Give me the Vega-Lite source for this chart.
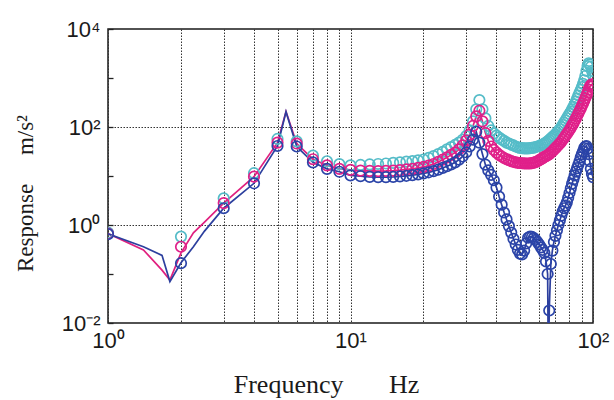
{
  "$schema": "https://vega.github.io/schema/vega-lite/v6.json",
  "width": 485,
  "height": 294,
  "autosize": {"type": "none"},
  "padding": {"left": 108, "top": 29, "right": 21, "bottom": 77},
  "background": "white",
  "config": {
    "view": {"stroke": "#1a1a1a", "strokeWidth": 1.5},
    "axis": {"labelFont": "Liberation Sans", "labelFontSize": 22, "labelColor": "#1a1a1a", "titleFont": "Liberation Serif", "titleFontWeight": "normal", "titleFontSize": 23, "titleColor": "#1a1a1a", "domain": false}
  },
  "data": {"values": [
    {"freq": 1, "c": 0.7, "m": 0.67, "b": 0.65, "lm": 0.67, "lb": 0.66},
    {"freq": 1.4, "lm": 0.31, "lb": 0.36},
    {"freq": 1.67, "lm": 0.12, "lb": 0.24},
    {"freq": 1.8, "lm": 0.075, "lb": 0.07},
    {"freq": 2, "c": 0.58, "m": 0.36, "b": 0.166, "lm": 0.27, "lb": 0.17},
    {"freq": 2.25, "lm": 0.69, "lb": 0.36},
    {"freq": 2.5, "lm": 1.15, "lb": 0.75},
    {"freq": 3, "c": 3.5, "m": 2.8, "b": 2.2, "lm": 2.8, "lb": 2.2},
    {"freq": 4, "c": 11.4, "m": 9.7, "b": 7.1, "lm": 9.7, "lb": 7.1},
    {"freq": 5, "c": 57, "m": 48, "b": 41, "lm": 48, "lb": 41},
    {"freq": 5.42, "lm": 205, "lb": 205},
    {"freq": 6, "c": 51, "m": 46, "b": 40, "lm": 46, "lb": 40},
    {"freq": 7, "c": 26, "m": 22, "b": 19, "lm": 22, "lb": 19},
    {"freq": 8, "c": 20, "m": 16.5, "b": 14, "lm": 16.5, "lb": 14},
    {"freq": 9, "c": 17.5, "m": 14, "b": 12.2, "lm": 14, "lb": 12.2},
    {"freq": 10, "c": 16.5, "m": 13.3, "b": 10.3, "lm": 13.3, "lb": 10.3},
    {"freq": 11, "c": 16.8, "m": 12.9, "b": 9.9, "lm": 12.9, "lb": 9.9},
    {"freq": 12, "c": 17.2, "m": 12.7, "b": 9.6, "lm": 12.7, "lb": 9.6},
    {"freq": 13, "c": 17.6, "m": 12.6, "b": 9.5, "lm": 12.6, "lb": 9.5},
    {"freq": 14, "c": 18, "m": 12.7, "b": 9.5, "lm": 12.7, "lb": 9.5},
    {"freq": 15, "c": 18.5, "m": 12.9, "b": 9.6, "lm": 12.9, "lb": 9.6},
    {"freq": 16, "c": 19, "m": 13.2, "b": 9.8, "lm": 13.2, "lb": 9.8},
    {"freq": 17, "c": 19.6, "m": 13.6, "b": 10.1, "lm": 13.6, "lb": 10.1},
    {"freq": 18, "c": 20.2, "m": 14, "b": 10.4, "lm": 14, "lb": 10.4},
    {"freq": 19, "c": 20.9, "m": 14.6, "b": 10.8, "lm": 14.6, "lb": 10.8},
    {"freq": 20, "c": 21.7, "m": 15.3, "b": 11.3, "lm": 15.3, "lb": 11.3},
    {"freq": 21, "c": 23.5, "m": 16.3, "b": 11.9, "lm": 16.3, "lb": 11.9},
    {"freq": 22, "c": 25.5, "m": 17.6, "b": 12.6, "lm": 17.6, "lb": 12.6},
    {"freq": 23, "c": 28, "m": 19.4, "b": 13.5, "lm": 19.4, "lb": 13.5},
    {"freq": 24, "c": 31, "m": 21.5, "b": 14.6, "lm": 21.5, "lb": 14.6},
    {"freq": 25, "c": 35, "m": 24, "b": 15.8, "lm": 24, "lb": 15.8},
    {"freq": 26, "c": 39, "m": 27, "b": 17.2, "lm": 27, "lb": 17.2},
    {"freq": 27, "c": 43, "m": 30, "b": 19, "lm": 30, "lb": 19},
    {"freq": 28, "c": 48, "m": 35, "b": 21.5, "lm": 35, "lb": 21.5},
    {"freq": 29, "c": 55, "m": 42, "b": 25, "lm": 42, "lb": 25},
    {"freq": 30, "c": 65, "m": 53, "b": 30.5, "lm": 53, "lb": 30.5},
    {"freq": 31, "c": 85, "m": 70, "b": 40, "lm": 70, "lb": 40},
    {"freq": 32, "c": 130, "m": 105, "b": 55, "lm": 105, "lb": 55},
    {"freq": 33, "c": 230, "m": 165, "b": 80, "lm": 165, "lb": 80},
    {"freq": 34, "c": 355, "m": 215, "b": 48, "lm": 215, "lb": 48},
    {"freq": 35, "c": 230, "m": 130, "b": 28, "lm": 130, "lb": 28},
    {"freq": 36, "c": 150, "m": 75, "b": 17, "lm": 75, "lb": 17},
    {"freq": 37, "c": 105, "m": 52, "b": 13, "lm": 52, "lb": 13},
    {"freq": 38, "c": 85, "m": 40, "b": 10.5, "lm": 40, "lb": 10.5},
    {"freq": 39, "c": 74, "m": 34, "b": 8.2, "lm": 34, "lb": 8.2},
    {"freq": 40, "c": 67, "m": 30, "b": 5.8, "lm": 30, "lb": 5.8},
    {"freq": 41, "c": 61, "m": 27, "b": 3.8, "lm": 27, "lb": 3.8},
    {"freq": 42, "c": 56, "m": 25, "b": 2.6, "lm": 25, "lb": 2.6},
    {"freq": 43, "c": 52, "m": 23.3, "b": 1.8, "lm": 23.3, "lb": 1.8},
    {"freq": 44, "c": 48, "m": 22, "b": 1.3, "lm": 22, "lb": 1.3},
    {"freq": 45, "c": 46, "m": 21, "b": 0.95, "lm": 21, "lb": 0.95},
    {"freq": 46, "c": 44, "m": 20.2, "b": 0.7, "lm": 20.2, "lb": 0.7},
    {"freq": 47, "c": 42, "m": 19.5, "b": 0.52, "lm": 19.5, "lb": 0.52},
    {"freq": 48, "c": 40, "m": 19, "b": 0.4, "lm": 19, "lb": 0.4},
    {"freq": 49, "c": 38.5, "m": 18.6, "b": 0.31, "lm": 18.6, "lb": 0.31},
    {"freq": 50, "c": 37.5, "m": 18.4, "b": 0.26, "lm": 18.4, "lb": 0.26},
    {"freq": 51, "c": 37, "m": 18.2, "b": 0.25, "lm": 18.2, "lb": 0.25},
    {"freq": 52, "c": 36.5, "m": 18.1, "b": 0.3, "lm": 18.1, "lb": 0.3},
    {"freq": 53, "c": 36.5, "m": 18, "b": 0.42, "lm": 18, "lb": 0.42},
    {"freq": 54, "c": 36.5, "m": 18, "b": 0.55, "lm": 18, "lb": 0.55},
    {"freq": 55, "c": 37, "m": 18.1, "b": 0.58, "lm": 18.1, "lb": 0.58},
    {"freq": 56, "c": 37.5, "m": 18.3, "b": 0.57, "lm": 18.3, "lb": 0.57},
    {"freq": 57, "c": 38, "m": 18.7, "b": 0.54, "lm": 18.7, "lb": 0.54},
    {"freq": 58, "c": 39, "m": 19.2, "b": 0.5, "lm": 19.2, "lb": 0.5},
    {"freq": 59, "c": 40, "m": 20, "b": 0.45, "lm": 20, "lb": 0.45},
    {"freq": 60, "c": 41, "m": 21, "b": 0.4, "lm": 21, "lb": 0.4},
    {"freq": 61, "c": 42.5, "m": 22, "b": 0.35, "lm": 22, "lb": 0.35},
    {"freq": 62, "c": 44, "m": 23.2, "b": 0.31, "lm": 23.2, "lb": 0.31},
    {"freq": 63, "c": 46, "m": 24.5, "b": 0.27, "lm": 24.5, "lb": 0.27},
    {"freq": 64, "c": 48, "m": 25.5, "b": 0.18, "lm": 25.5, "lb": 0.18},
    {"freq": 65, "c": 51, "m": 26.5, "b": 0.1, "lm": 26.5, "lb": 0.1},
    {"freq": 65.5, "lb": 0.0008},
    {"freq": 66, "c": 54, "m": 28, "b": 0.018, "lm": 28, "lb": 0.018},
    {"freq": 67, "c": 58, "m": 30, "b": 0.16, "lm": 30, "lb": 0.16},
    {"freq": 68, "c": 62, "m": 32, "b": 0.3, "lm": 32, "lb": 0.3},
    {"freq": 69, "c": 66, "m": 34.5, "b": 0.45, "lm": 34.5, "lb": 0.45},
    {"freq": 70, "c": 71, "m": 37, "b": 0.6, "lm": 37, "lb": 0.6},
    {"freq": 71, "c": 77, "m": 40, "b": 0.78, "lm": 40, "lb": 0.78},
    {"freq": 72, "c": 83, "m": 43, "b": 1.0, "lm": 43, "lb": 1.0},
    {"freq": 73, "c": 90, "m": 46, "b": 1.25, "lm": 46, "lb": 1.25},
    {"freq": 74, "c": 99, "m": 50, "b": 1.55, "lm": 50, "lb": 1.55},
    {"freq": 75, "c": 110, "m": 55, "b": 1.9, "lm": 55, "lb": 1.9},
    {"freq": 76, "c": 122, "m": 60, "b": 2.2, "lm": 60, "lb": 2.2},
    {"freq": 77, "c": 136, "m": 66, "b": 2.5, "lm": 66, "lb": 2.5},
    {"freq": 78, "c": 151, "m": 72, "b": 2.9, "lm": 72, "lb": 2.9},
    {"freq": 79, "c": 168, "m": 79, "b": 3.6, "lm": 79, "lb": 3.6},
    {"freq": 80, "c": 185, "m": 87, "b": 4.5, "lm": 87, "lb": 4.5},
    {"freq": 81, "c": 205, "m": 96, "b": 5.6, "lm": 96, "lb": 5.6},
    {"freq": 82, "c": 230, "m": 108, "b": 7, "lm": 108, "lb": 7},
    {"freq": 83, "c": 258, "m": 119, "b": 8.5, "lm": 119, "lb": 8.5},
    {"freq": 84, "c": 290, "m": 134, "b": 10.3, "lm": 134, "lb": 10.3},
    {"freq": 85, "c": 330, "m": 150, "b": 12.3, "lm": 150, "lb": 12.3},
    {"freq": 86, "c": 380, "m": 168, "b": 14.5, "lm": 168, "lb": 14.5},
    {"freq": 87, "c": 440, "m": 189, "b": 17, "lm": 189, "lb": 17},
    {"freq": 88, "c": 500, "m": 212, "b": 20, "lm": 212, "lb": 20},
    {"freq": 89, "c": 570, "m": 238, "b": 24, "lm": 238, "lb": 24},
    {"freq": 90, "c": 650, "m": 270, "b": 28, "lm": 270, "lb": 28},
    {"freq": 91, "c": 760, "m": 305, "b": 32, "lm": 305, "lb": 32},
    {"freq": 92, "c": 900, "m": 345, "b": 37, "lm": 345, "lb": 37},
    {"freq": 93, "c": 1100, "m": 390, "b": 40, "lm": 390, "lb": 40},
    {"freq": 94, "c": 1400, "m": 445, "b": 41, "lm": 445, "lb": 41},
    {"freq": 95, "c": 1750, "m": 505, "b": 36, "lm": 505, "lb": 36},
    {"freq": 96, "c": 2000, "m": 580, "b": 28, "lm": 580, "lb": 28},
    {"freq": 97, "c": 1900, "m": 664, "b": 20, "lm": 664, "lb": 20},
    {"freq": 98, "c": 1700, "m": 720, "b": 14, "lm": 720, "lb": 14},
    {"freq": 99, "c": 1400, "m": 740, "b": 11, "lm": 740, "lb": 11},
    {"freq": 100, "c": 1150, "m": 700, "b": 9.5, "lm": 700, "lb": 9.5}
  ]},
  "encoding": {
    "x": {
      "field": "freq", "type": "quantitative",
      "scale": {"type": "log", "domain": [1, 100], "nice": false},
      "axis": {
        "values": [1, 2, 3, 4, 5, 6, 7, 8, 9, 10, 20, 30, 40, 50, 60, 70, 80, 90, 100],
        "labelExpr": "datum.value == 1 ? '10⁰' : datum.value == 10 ? '10¹' : datum.value == 100 ? '10²' : ''",
        "grid": true, "gridDash": [1.5, 1.5], "gridColor": "#333", "gridWidth": 1,
        "ticks": false, "labelPadding": 7, "labelFlush": false, "labelBound": false, "labelOverlap": false,
        "title": "Frequency\u00a0\u00a0\u00a0\u00a0\u00a0\u00a0\u00a0Hz", "titleFontSize": 26, "titleX": 218, "titleY": 69, "titleBaseline": "alphabetic", "titleAlign": "center"
      }
    },
    "y": {
      "field": "resp", "type": "quantitative",
      "scale": {"type": "log", "domain": [0.01, 10000], "nice": false},
      "axis": {
        "values": [0.01, 0.1, 1, 10, 100, 1000, 10000],
        "labelExpr": "datum.value == 10000 ? '10⁴' : datum.value == 100 ? '10²' : datum.value == 1 ? '10⁰' : datum.value == 0.01 ? '10⁻²' : ''",
        "grid": true,
        "gridOpacity": {"condition": {"test": "datum.value == 1 || datum.value == 100", "value": 1}, "value": 0},
        "gridDash": [1.5, 1.5], "gridColor": "#333", "gridWidth": 1,
        "ticks": true, "tickSize": -5, "tickColor": "#222", "tickWidth": 1.3,
        "labelPadding": 13, "labelOverlap": false, "labelFlush": false, "labelBound": false,
        "title": "Response\u00a0\u00a0\u00a0\u00a0\u00a0m/s²", "titleX": -76, "titleY": 164, "titleAngle": 270, "titleAlign": "center", "titleBaseline": "alphabetic"
      }
    }
  },
  "layer": [
    {
      "transform": [{"fold": ["lm"], "as": ["series", "resp"]}, {"filter": "isValid(datum.resp)"}],
      "mark": {"type": "line", "color": "#e0207f", "strokeWidth": 1.7, "clip": true}
    },
    {
      "transform": [{"fold": ["lb"], "as": ["series", "resp"]}, {"filter": "isValid(datum.resp)"}],
      "mark": {"type": "line", "color": "#2c3f9e", "strokeWidth": 1.7, "clip": true}
    },
    {
      "transform": [{"fold": ["c"], "as": ["series", "resp"]}, {"filter": "isValid(datum.resp)"}],
      "mark": {"type": "point", "shape": "circle", "filled": false, "color": "#55bcc8", "size": 110, "strokeWidth": 1.7, "opacity": 1, "clip": true}
    },
    {
      "transform": [{"fold": ["m"], "as": ["series", "resp"]}, {"filter": "isValid(datum.resp)"}],
      "mark": {"type": "point", "shape": "circle", "filled": false, "color": "#e0208a", "size": 110, "strokeWidth": 1.7, "opacity": 1, "clip": true}
    },
    {
      "transform": [{"fold": ["b"], "as": ["series", "resp"]}, {"filter": "isValid(datum.resp)"}],
      "mark": {"type": "point", "shape": "circle", "filled": false, "color": "#2b44a8", "size": 110, "strokeWidth": 1.7, "opacity": 1, "clip": true}
    }
  ]
}
